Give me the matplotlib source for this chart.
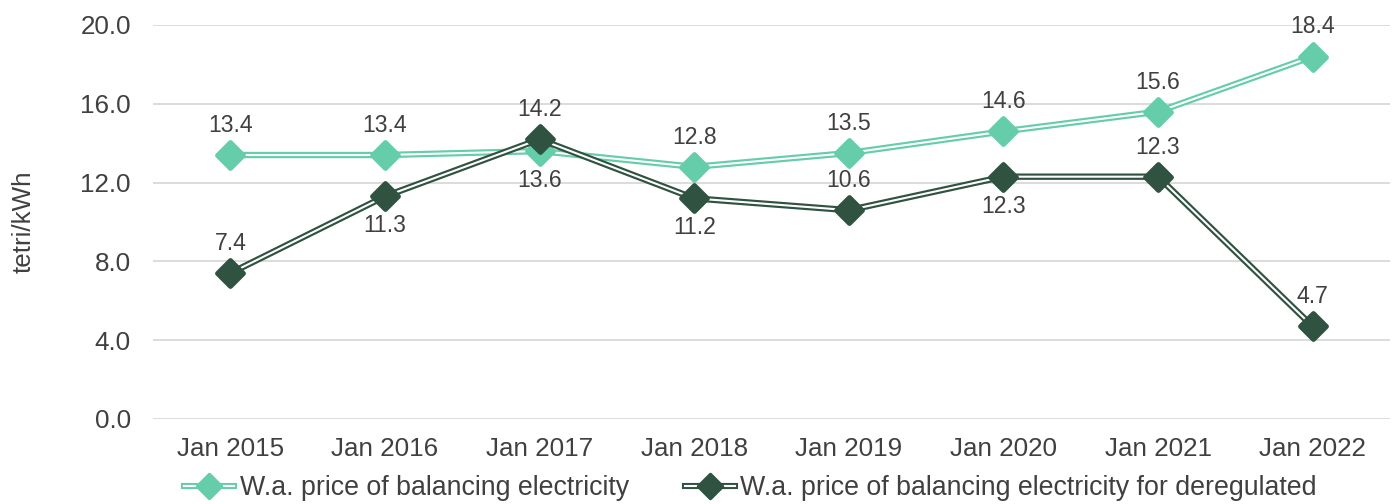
import matplotlib.pyplot as plt
from matplotlib.lines import Line2D
from matplotlib.markers import MarkerStyle

plt.rcParams['font.family'] = ['Liberation Sans', 'DejaVu Sans']

# ── Data ──────────────────────────────────────────────────────────
periods = ["Jan 2015", "Jan 2016", "Jan 2017", "Jan 2018",
           "Jan 2019", "Jan 2020", "Jan 2021", "Jan 2022"]
price_all = [13.4, 13.4, 13.6, 12.8, 13.5, 14.6, 15.6, 18.4]
price_dereg = [7.4, 11.3, 14.2, 11.2, 10.6, 12.3, 12.3, 4.7]
# label placement: +1 above, -1 below
pos_all = [1, 1, -1, 1, 1, 1, 1, 1]
pos_dereg = [1, -1, 1, -1, 1, -1, 1, 1]

name_all = "W.a. price of balancing electricity"
name_dereg = "W.a. price of balancing electricity for deregulated"

C_LIGHT = "#66CDAA"
C_DARK = "#2F5241"
TXT = "#404040"
FS_TICK = 18.7
FS_LBL = 16.6
FS_LEG = 19.3

fig = plt.figure(figsize=(13.95, 5.04), dpi=100)
ax = fig.add_axes([0.1097, 0.1687, 0.8867, 0.7817])

x = list(range(len(periods)))
DIAMOND = MarkerStyle("D", joinstyle="round")


def double_line(xs, ys, color, z):
    ax.plot(xs, ys, color=color, lw=4.6, solid_capstyle="butt", zorder=z)
    ax.plot(xs, ys, color="white", lw=1.5, solid_capstyle="butt", zorder=z + 0.1)
    ax.plot(xs, ys, ls="none", marker=DIAMOND, ms=13.5, color=color, mec=color,
            mew=3.5, zorder=z + 0.2)


double_line(x, price_all, C_LIGHT, 3)
double_line(x, price_dereg, C_DARK, 4)

for vals, places in [(price_all, pos_all), (price_dereg, pos_dereg)]:
    for xi, v, p in zip(x, vals, places):
        ax.annotate(f"{v:.1f}", (xi, v), xytext=(0, 13 if p > 0 else -13),
                    textcoords="offset points", ha="center",
                    va="bottom" if p > 0 else "top", fontsize=FS_LBL, color=TXT, zorder=6)

ax.set_xlim(-0.5, len(periods) - 0.5)
ax.set_ylim(0, 20)
ax.set_yticks([0, 4, 8, 12, 16, 20])
ax.set_yticklabels([f"{t:.1f}" for t in [0, 4, 8, 12, 16, 20]])
ax.set_xticks(x)
ax.set_xticklabels(periods)
ax.tick_params(length=0, labelsize=FS_TICK, colors=TXT, pad=13)
ax.tick_params(axis="y", pad=16)
ax.grid(axis="y", color="#d9d9d9", lw=1.3)
ax.set_axisbelow(True)
for s in ax.spines.values():
    s.set_visible(False)
ax.set_ylabel("tetri/kWh", fontsize=FS_TICK, color=TXT, labelpad=32)


def legend_handle(color):
    thick = Line2D([], [], color=color, lw=4.4)
    thin = Line2D([], [], color="white", lw=1.5)
    mk = Line2D([], [], ls="none", marker=DIAMOND, ms=12, color=color, mec=color, mew=2.5)
    return (thick, thin, mk)


ax.legend([legend_handle(C_LIGHT), legend_handle(C_DARK)], [name_all, name_dereg],
          loc="center", bbox_to_anchor=(0.483, -0.175), ncol=2, frameon=False,
          fontsize=FS_LEG, labelcolor=TXT, handlelength=1.87, handletextpad=0.2,
          columnspacing=2.1, borderpad=0.2)

fig.savefig("out.png", dpi=100)
